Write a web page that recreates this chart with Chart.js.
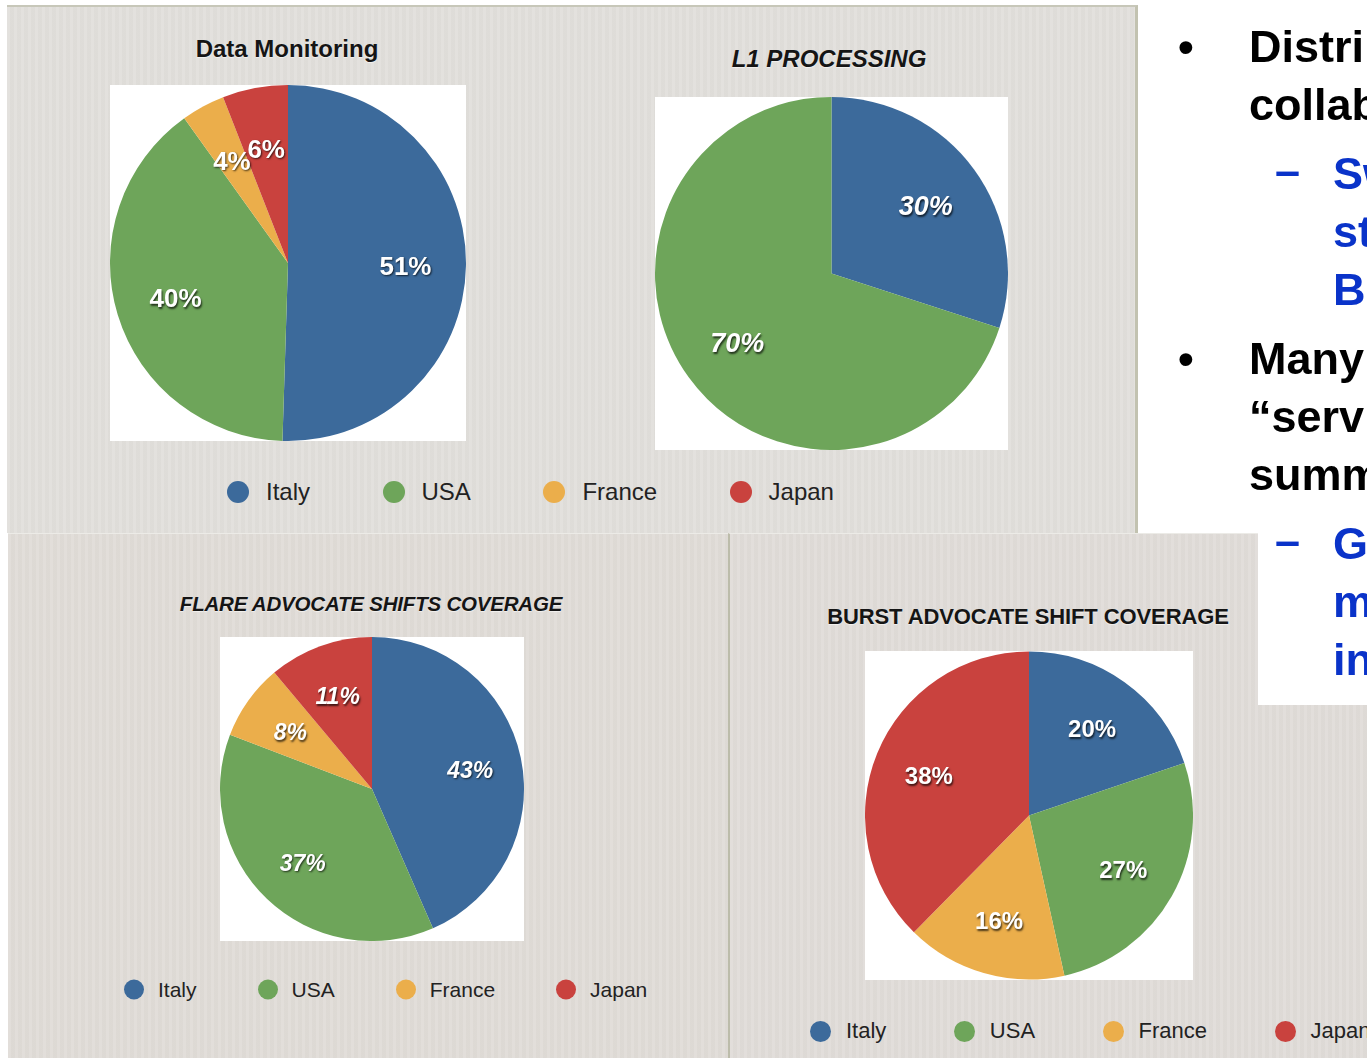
<!DOCTYPE html>
<html>
<head>
<meta charset="utf-8">
<script src="https://cdn.jsdelivr.net/npm/chart.js@4.4.1/dist/chart.umd.min.js"></script>
<style>
html,body{margin:0;padding:0;background:#fff;}
body{width:1367px;height:1058px;overflow:hidden;position:relative;font-family:"Liberation Sans",Arial,Helvetica,sans-serif;}
.panel{position:absolute;box-sizing:border-box;
  background-color:#e1dfdb;
  background-image:repeating-linear-gradient(90deg,rgba(255,255,255,0.07) 0px,rgba(255,255,255,0.07) 3px,rgba(0,0,0,0.012) 3px,rgba(0,0,0,0.012) 7px);}
#p1{left:7px;top:5px;width:1131px;height:528px;border-top:2px solid #c7c7b9;border-right:3px solid #c2c2b0;}
#p3{left:8px;top:533px;width:721px;height:525px;background-color:#e0dcd7;border-top:1px solid #ecebe7;}
#p4{left:728px;top:533px;width:639px;height:525px;background-color:#e0dcd8;border-left:2px solid #bcbcaa;border-top:1px solid #ecebe7;}
.title{position:absolute;transform:translate(-50%,-50%);white-space:nowrap;color:#151515;font-weight:bold;line-height:1;
  text-shadow:0 1px 1px rgba(255,255,255,0.6);}
.pie{position:absolute;background:#fff;}
.legend{position:absolute;display:flex;align-items:center;white-space:nowrap;color:#222;line-height:1;transform:translateY(-50%);}
.legend .dot{border-radius:50%;display:inline-block;flex:none;}
#textbox{position:absolute;left:1258px;top:533px;width:109px;height:172px;background:#fff;}
#slide{position:absolute;left:0;top:0;width:1367px;height:1058px;overflow:hidden;pointer-events:none;}
.para{position:absolute;font-weight:bold;font-size:45px;line-height:58px;white-space:nowrap;}
.lv1{left:1249px;color:#000;}
.lv2{left:1333px;color:#0a33c9;}
.mark{position:absolute;}
.lv1 .mark{left:-71px;}
.lv2 .mark{left:-58px;top:-3px;}
</style>
</head>
<body>
<div class="panel" id="p1"></div>
<div class="panel" id="p3"></div>
<div class="panel" id="p4"></div>
<div id="textbox"></div>

<div class="title" style="left:287px;top:49px;font-size:24px;">Data Monitoring</div>
<div class="title" style="left:829px;top:59px;font-size:24px;font-style:italic;">L1 PROCESSING</div>
<div class="title" style="left:371px;top:604px;font-size:20.5px;font-style:italic;letter-spacing:-0.2px;">FLARE ADVOCATE SHIFTS COVERAGE</div>
<div class="title" style="left:1028px;top:617px;font-size:22px;letter-spacing:-0.1px;">BURST ADVOCATE SHIFT COVERAGE</div>

<canvas class="pie" id="c1" width="356" height="356" style="left:110px;top:85px;"></canvas>
<canvas class="pie" id="c2" width="353" height="353" style="left:655px;top:97px;"></canvas>
<canvas class="pie" id="c3" width="304" height="304" style="left:220px;top:637px;"></canvas>
<canvas class="pie" id="c4" width="328" height="329" style="left:865px;top:651px;"></canvas>

<div class="legend" id="lg1" style="left:227px;top:492px;font-size:24px;"></div>
<div class="legend" id="lg3" style="left:124px;top:989px;font-size:21px;"></div>
<div class="legend" id="lg4" style="left:810px;top:1031px;font-size:22px;"></div>

<div id="slide">
  <div class="para lv1" style="top:18px;"><span class="mark">•</span>Distrib<br>collab</div>
  <div class="para lv2" style="top:145px;"><span class="mark">–</span>Sw<br>st<br>B</div>
  <div class="para lv1" style="top:330px;"><span class="mark">•</span>Many<br>“serv<br>summ</div>
  <div class="para lv2" style="top:515px;"><span class="mark">–</span>G<br>m<br>in</div>
</div>

<script>
// ---- data ----
const categories = ["Italy", "USA", "France", "Japan"];
const sliceColors = ["#3c6a9b", "#6ea55a", "#ebae4b", "#c9423e"];
const dataMonitoring = [51, 40, 4, 6];
const l1Processing = [30, 70, 0, 0];
const flareShiftsCoverage = [43, 37, 8, 11];
const burstShiftCoverage = [20, 27, 16, 38];

// ---- slice label plugin ----
const sliceLabels = {
  id: 'sliceLabels',
  afterDatasetsDraw(chart, args, opts) {
    const ctx = chart.ctx;
    const meta = chart.getDatasetMeta(0);
    const vals = chart.data.datasets[0].data;
    ctx.save();
    ctx.font = opts.font;
    ctx.fillStyle = '#ffffff';
    ctx.textAlign = 'center';
    ctx.textBaseline = 'middle';
    ctx.shadowColor = 'rgba(0,0,0,0.7)';
    ctx.shadowOffsetX = 1;
    ctx.shadowOffsetY = 1.5;
    ctx.shadowBlur = 2;
    meta.data.forEach((arc, i) => {
      if (!vals[i]) return;
      const p = arc.getProps(['x', 'y', 'startAngle', 'endAngle', 'outerRadius'], true);
      const mid = (p.startAngle + p.endAngle) / 2;
      const d = p.outerRadius * opts.ratio;
      ctx.fillText(vals[i] + '%', p.x + Math.cos(mid) * d, p.y + Math.sin(mid) * d + opts.dy);
    });
    ctx.restore();
  }
};

function makePie(id, values, font) {
  new Chart(document.getElementById(id), {
    type: 'pie',
    data: {
      labels: categories,
      datasets: [{
        data: values,
        backgroundColor: sliceColors,
        borderWidth: 0
      }]
    },
    options: {
      responsive: false,
      maintainAspectRatio: false,
      animation: false,
      devicePixelRatio: 1,
      layout: { padding: 0 },
      events: [],
      plugins: {
        legend: { display: false },
        tooltip: { enabled: false },
        title: { display: false },
        sliceLabels: { font: font, ratio: 0.66, dy: 3 }
      }
    },
    plugins: [sliceLabels]
  });
}

makePie('c1', dataMonitoring, 'bold 26px "Liberation Sans", Arial, sans-serif');
makePie('c2', l1Processing, 'italic bold 27px "Liberation Sans", Arial, sans-serif');
makePie('c3', flareShiftsCoverage, 'italic bold 23px "Liberation Sans", Arial, sans-serif');
makePie('c4', burstShiftCoverage, 'bold 24px "Liberation Sans", Arial, sans-serif');

// ---- html legends built from categories ----
function makeLegend(id, dot, gapText, gapItem) {
  const el = document.getElementById(id);
  categories.forEach((c, i) => {
    const d = document.createElement('span');
    d.className = 'dot';
    d.style.width = dot + 'px';
    d.style.height = dot + 'px';
    d.style.background = sliceColors[i];
    d.style.marginRight = gapText + 'px';
    const t = document.createElement('span');
    t.textContent = c;
    if (i < categories.length - 1) t.style.marginRight = gapItem + 'px';
    el.appendChild(d);
    el.appendChild(t);
  });
}
makeLegend('lg1', 22, 17, 72.5);
makeLegend('lg3', 20, 14, 61);
makeLegend('lg4', 21, 15, 67.5);
</script>
</body>
</html>
